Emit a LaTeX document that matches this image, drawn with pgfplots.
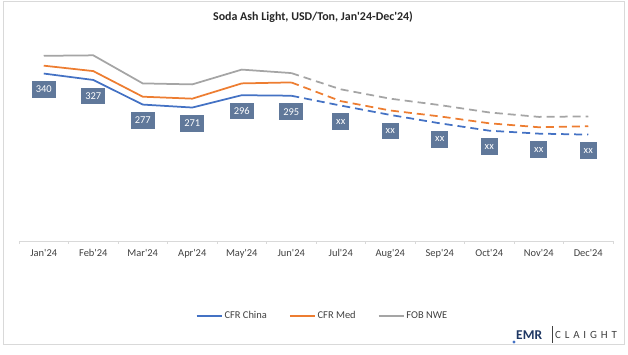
\documentclass[border=0pt]{standalone}
\usepackage{pgfplots}
\usepackage{pgfplotstable}
\pgfplotsset{compat=1.18}
\usepackage{fontspec}
\setmainfont{Carlito}
\definecolor{cblue}{HTML}{4472C4}
\definecolor{corange}{HTML}{ED7D31}
\definecolor{cgray}{HTML}{A5A5A5}
\definecolor{lblbox}{HTML}{60789A}
\definecolor{axgray}{HTML}{D9D9D9}
\definecolor{txt}{HTML}{404040}
\definecolor{emrblue}{HTML}{1F3864}
\definecolor{frame}{HTML}{D9D9D9}

\pgfplotstableread{
x china med fob
0 340 356 376
1 327 345 377
2 277 293 320
3 271 289 318
4 296 320 348
5 295 322 341
}\solidtab
\pgfplotstableread{
x china med fob
5 295 322 341
6 275 284 308
7 256 265 289
8 239 253 276
9 224 239 261
10 218 231 252
11 216 233 253
}\dashtab

\begin{document}
\begin{tikzpicture}
\useasboundingbox (0,0) rectangle (628bp,355bp);
\draw[frame, line width=0.8bp] (3bp,354bp) rectangle (624bp,11bp);
\node[font=\fontsize{12}{14}\selectfont\bfseries, text=black!85] at (313bp,338bp) {Soda Ash Light, USD/Ton, Jan\textquotesingle24-Dec\textquotesingle24)};
\begin{axis}[
  at={(19bp,114bp)}, anchor=south west,
  scale only axis, width=594bp, height=197bp,
  xmin=-0.5, xmax=11.5, ymin=0, ymax=400,
  /pgf/number format/assume math mode=true,
  axis x line=bottom, axis y line=none,
  x axis line style={draw=axgray, line width=0.8bp, -},
  xtick={0,...,11},
  xticklabels={Jan\textquotesingle24,Feb\textquotesingle24,Mar\textquotesingle24,Apr\textquotesingle24,May\textquotesingle24,Jun\textquotesingle24,Jul\textquotesingle24,Aug\textquotesingle24,Sep\textquotesingle24,Oct\textquotesingle24,Nov\textquotesingle24,Dec\textquotesingle24},
  major tick length=0pt,
  minor xtick={-0.5,0.5,...,11.5},
  minor tick length=3bp,
  tick align=outside,
  minor tick style={draw=axgray, line width=0.8bp},
  xticklabel style={font=\fontsize{10.5}{12}\selectfont, text=txt, yshift=-5bp},
  clip=false,
  legend columns=3,
  legend style={at={(0.511,-0.381)}, anchor=center, draw=none, fill=none,
    font=\fontsize{10.5}{12}\selectfont, text=txt, inner sep=0pt,
    /tikz/every even column/.append style={column sep=20bp}},
  legend image code/.code={\draw[#1] (0bp,0bp) -- (25bp,0bp);},
  every node near coord/.append style={fill=lblbox, text=white, anchor=center,
    yshift=-16bp, inner xsep=4bp, inner ysep=0bp, minimum height=16.5bp,
    font=\fontsize{10.5}{12}\selectfont},
]
\addplot[cblue, line width=1.75bp, nodes near coords] table[x=x,y=china] {\solidtab};
\addlegendentry{CFR China}
\addplot[corange, line width=1.75bp] table[x=x,y=med] {\solidtab};
\addlegendentry{CFR Med}
\addplot[cgray, line width=1.75bp] table[x=x,y=fob] {\solidtab};
\addlegendentry{FOB NWE}
\addplot[cblue, line width=1.75bp, dash pattern=on 8bp off 5bp, forget plot] table[x=x,y=china] {\dashtab};
\addplot[corange, line width=1.75bp, dash pattern=on 8bp off 5bp, forget plot] table[x=x,y=med] {\dashtab};
\addplot[cgray, line width=1.75bp, dash pattern=on 8bp off 5bp, forget plot] table[x=x,y=fob] {\dashtab};
\addplot[draw=none, forget plot, restrict x to domain=6:11, nodes near coords={xx}] table[x=x,y=china] {\dashtab};
\end{axis}
\fill[cblue] (514bp,13bp) circle (1.6bp);
\node[anchor=west, inner sep=0pt, font=\fontsize{13.5}{15}\selectfont\bfseries, text=emrblue] at (516bp,20bp) {EMR};
\draw[txt, line width=0.6bp] (552bp,12bp) -- (552bp,29bp);
\node[anchor=west, inner sep=0pt, font=\fontsize{11}{13}\selectfont\addfontfeature{LetterSpace=35}, text=txt] at (555bp,20bp) {CLAIGHT};
\end{tikzpicture}
\end{document}
